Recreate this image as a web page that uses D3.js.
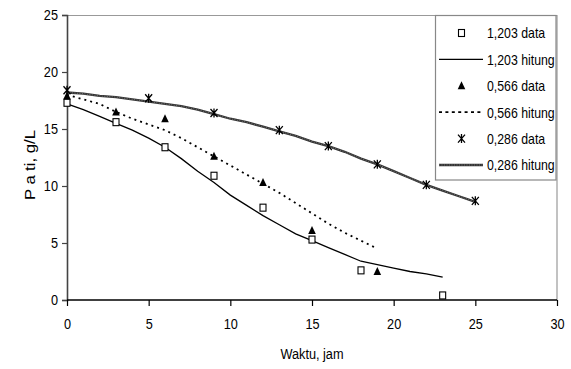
<!DOCTYPE html>
<html><head><meta charset="utf-8">
<script src="https://cdn.jsdelivr.net/npm/d3@7"></script>
<style>
html,body{margin:0;padding:0;background:#fff;}
text{font-family:"Liberation Sans",Arial,sans-serif;fill:#000;}
</style></head>
<body><svg id="c" width="571" height="369"></svg>
<script>
// ---- data ----
const xTicks = [0,5,10,15,20,25,30];
const yTicks = [0,5,10,15,20,25];
const xTitle = "Waktu, jam";
const yTitle = "Pati, g/L";

const t1203Data = [0,3,6,9,12,15,18,23];
const v1203Data = [17.3,15.6,13.4,10.9,8.1,5.3,2.6,0.4];
const t1203Calc = [0,1,2,3,4,5,6,7,8,9,10,11,12,13,14,15,16,17,18,19,20,21,22,23];
const v1203Calc = [17.2,16.7,16.1,15.5,14.9,14.2,13.4,12.4,11.3,10.3,9.2,8.3,7.4,6.6,5.8,5.2,4.6,4.0,3.4,3.1,2.8,2.5,2.3,2.0];

const t0566Data = [0,3,6,9,12,15,19];
const v0566Data = [17.9,16.5,15.9,12.6,10.3,6.1,2.5];
const t0566Calc = [0,1,2,3,4,5,6,7,8,9,10,11,12,13,14,15,16,17,18,19];
const v0566Calc = [18.0,17.6,17.2,16.5,15.9,15.4,14.9,14.2,13.4,12.6,11.8,11.0,10.2,9.4,8.5,7.6,6.7,5.9,5.2,4.5];

const t0286Data = [0,5,9,13,16,19,22,25];
const v0286Data = [18.4,17.7,16.4,14.9,13.5,11.9,10.1,8.7];
const t0286Calc = [0,1,2,3,4,5,6,7,8,9,10,11,12,13,14,15,16,17,18,19,20,21,22,23,24,25];
const v0286Calc = [18.2,18.1,17.9,17.8,17.6,17.4,17.2,17.0,16.7,16.3,15.9,15.6,15.2,14.8,14.4,13.9,13.5,13.0,12.4,11.9,11.3,10.7,10.1,9.6,9.1,8.6];

const legendLabels = ["1,203 data","1,203 hitung","0,566 data","0,566 hitung","0,286 data","0,286 hitung"];

// ---- chart ----
const svg = d3.select("#c");
const L=67, R=557, T=15, B=300;
const x = d3.scaleLinear().domain([0,30]).range([L,R]);
const y = d3.scaleLinear().domain([0,25]).range([B,T]);
const NARROW = 0.82;
function narrow(sel, k){
  sel.each(function(){
    const w = this.getComputedTextLength();
    this.setAttribute("textLength", (w*(k||NARROW)).toFixed(2));
    this.setAttribute("lengthAdjust","spacingAndGlyphs");
  });
}

// frame
svg.append("line").attr("x1",L).attr("x2",R).attr("y1",T+0.5).attr("y2",T+0.5).attr("stroke","#999").attr("stroke-width",1.2);
svg.append("line").attr("x1",R).attr("x2",R).attr("y1",T).attr("y2",B).attr("stroke","#999").attr("stroke-width",1.2);

// axes
const yAxis = d3.axisLeft(y).tickValues(yTicks).tickSize(5).tickPadding(4).tickFormat(d3.format("d"));
const gy = svg.append("g").attr("transform",`translate(${L},0)`).call(yAxis);
gy.select(".domain").attr("stroke","#444").attr("stroke-width",1.6);
gy.selectAll(".tick line").attr("stroke","#444").attr("stroke-width",1.2);
gy.selectAll("text").style("font-size","15.5px").attr("fill","#000").attr("font-family","Liberation Sans");
narrow(gy.selectAll("text"));

const xAxis = d3.axisBottom(x).tickValues(xTicks).tickSize(6).tickPadding(12).tickFormat(d3.format("d"));
const gx = svg.append("g").attr("transform",`translate(0,${B})`).call(xAxis);
gx.select(".domain").attr("stroke","#000").attr("stroke-width",1.6).attr("d",`M${L},0H${R}`);
gx.selectAll(".tick line").attr("stroke","#000").attr("stroke-width",1.2);
gx.selectAll("text").style("font-size","15.5px").attr("fill","#000").attr("font-family","Liberation Sans");
narrow(gx.selectAll("text"));

// titles
const xt = svg.append("text").attr("x",(L+R)/2).attr("y",359).attr("text-anchor","middle").style("font-size","15.5px").text(xTitle);
narrow(xt);
const yt = svg.append("text").attr("transform","translate(35,165) rotate(-90)").attr("text-anchor","middle").style("font-size","15.5px");
yt.append("tspan").text(yTitle.slice(0,1));
yt.append("tspan").attr("dx",4).text(yTitle.slice(1,2));
yt.append("tspan").attr("dx",4).text(yTitle.slice(2));
yt.attr("textLength",70).attr("lengthAdjust","spacingAndGlyphs");

// lines
const line = d3.line().x(d=>x(d[0])).y(d=>y(d[1]));
const zip = (a,b)=>a.map((v,i)=>[v,b[i]]);

svg.append("path").datum(zip(t1203Calc,v1203Calc)).attr("d",line).attr("fill","none").attr("stroke","#000").attr("stroke-width",1.3);
svg.append("path").datum(zip(t0566Calc,v0566Calc)).attr("d",line).attr("fill","none").attr("stroke","#000").attr("stroke-width",1.8).attr("stroke-dasharray","2,4");
const p286 = zip(t0286Calc,v0286Calc);
svg.append("path").datum(p286).attr("d",line).attr("fill","none").attr("stroke","#333").attr("stroke-width",2.3);
svg.append("path").datum(p286).attr("d",line).attr("fill","none").attr("stroke","#888").attr("stroke-width",0.8).attr("stroke-dasharray","1,1.5");

// markers
function square(g,cx,cy){ g.append("rect").attr("x",cx-3).attr("y",cy-3.5).attr("width",6).attr("height",7).attr("fill","#fff").attr("stroke","#000").attr("stroke-width",1.1); }
function tri(g,cx,cy){ g.append("path").attr("d",`M${cx},${cy-4.5}L${cx+3.8},${cy+3.5}L${cx-3.8},${cy+3.5}Z`).attr("fill","#000"); }
function star(g,cx,cy){ g.append("path").attr("d",`M${cx-3.5},${cy-4}L${cx+3.5},${cy+4}M${cx+3.5},${cy-4}L${cx-3.5},${cy+4}M${cx},${cy-4.5}L${cx},${cy+4.5}`).attr("stroke","#000").attr("stroke-width",1.3).attr("fill","none"); }

const gm = svg.append("g");
zip(t0286Data,v0286Data).forEach(d=>star(gm,x(d[0]),y(d[1])));
zip(t0566Data,v0566Data).forEach(d=>tri(gm,x(d[0]),y(d[1])));
zip(t1203Data,v1203Data).forEach(d=>square(gm,x(d[0]),y(d[1])));

// legend
const lg = svg.append("g");
lg.append("rect").attr("x",435.5).attr("y",15.5).attr("width",120.5).attr("height",164.5).attr("fill","#fff").attr("stroke","#888").attr("stroke-width",1.2);
const rowY = i => 33 + i*26.4;
const sx1=439, sx2=483, sc=461.5, tx=487;
legendLabels.forEach((lab,i)=>{
  const yy=rowY(i);
  if(i===0) square(lg,sc,yy);
  if(i===2) tri(lg,sc,yy);
  if(i===4) star(lg,sc,yy);
  if(i===1) lg.append("line").attr("x1",sx1).attr("x2",sx2).attr("y1",yy).attr("y2",yy).attr("stroke","#000").attr("stroke-width",1.3);
  if(i===3) lg.append("line").attr("x1",sx1).attr("x2",sx2).attr("y1",yy).attr("y2",yy).attr("stroke","#000").attr("stroke-width",1.8).attr("stroke-dasharray","3,3.4");
  if(i===5){
    lg.append("line").attr("x1",sx1).attr("x2",sx2).attr("y1",yy).attr("y2",yy).attr("stroke","#333").attr("stroke-width",2.3);
    lg.append("line").attr("x1",sx1).attr("x2",sx2).attr("y1",yy).attr("y2",yy).attr("stroke","#888").attr("stroke-width",0.8).attr("stroke-dasharray","1,1.5");
  }
  const t = lg.append("text").attr("x",tx).attr("y",yy).attr("dy","0.36em").style("font-size","15px").text(lab);
  narrow(t);
});
</script></body></html>
